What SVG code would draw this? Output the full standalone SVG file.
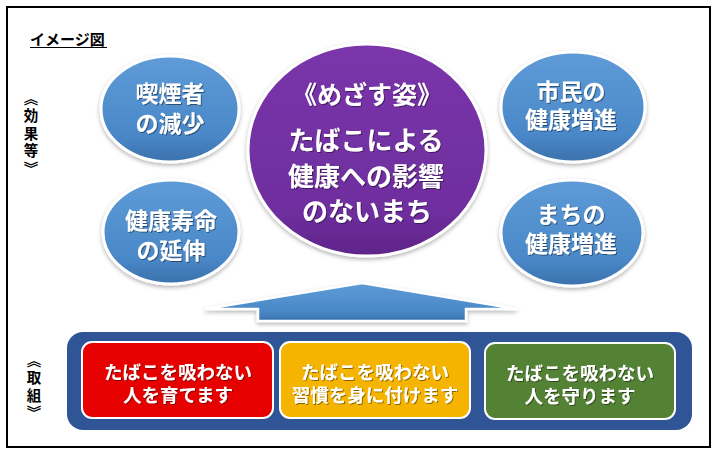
<svg xmlns="http://www.w3.org/2000/svg" width="720" height="456" viewBox="0 0 720 456">
<style>
.jp{font-family:'Noto Sans CJK JP','Noto Sans CJK SC',sans-serif;font-weight:bold}
.w{fill:#fff;text-anchor:middle}
.lbl{fill:#000;font-size:14.5px;writing-mode:vertical-rl;letter-spacing:3px}
.ell{stroke:#fff;stroke-width:3}
.box{stroke:#fff;stroke-width:2}
</style>
<defs>
<linearGradient id="blue" x1="0" y1="0" x2="0" y2="1">
<stop offset="0" stop-color="#5e9bd7"/><stop offset="0.75" stop-color="#4a88c8"/><stop offset="1" stop-color="#3a71ab"/>
</linearGradient>
<linearGradient id="purple" x1="0" y1="0" x2="0" y2="1">
<stop offset="0" stop-color="#7a35aa"/><stop offset="0.8" stop-color="#6e2e9e"/><stop offset="1" stop-color="#5e2488"/>
</linearGradient>
<filter id="sh" x="-10%" y="-10%" width="120%" height="130%">
<feDropShadow dx="0" dy="2" stdDeviation="2" flood-color="#000" flood-opacity="0.3"/>
</filter>
<filter id="ts" x="-5%" y="-20%" width="110%" height="140%">
<feDropShadow dx="1" dy="1" stdDeviation="0.6" flood-color="#000" flood-opacity="0.45"/>
</filter>
</defs>
<rect x="0" y="0" width="720" height="456" fill="#fff"/>
<rect x="7" y="7" width="703" height="440" fill="none" stroke="#000" stroke-width="2"/>

<g id="title">
<text class="jp" x="30" y="45" font-size="15" fill="#000">イメージ図</text>
<line x1="30" y1="47.5" x2="107" y2="47.5" stroke="#000" stroke-width="1.2"/>
</g>
<g id="label-effects">
<text class="jp lbl" x="31" y="91">《効果等》</text>
</g>
<g id="label-actions">
<text class="jp lbl" x="34" y="353">《取組》</text>
</g>

<g id="connectors">
<polygon points="362,283 517,309 466,309 466,321 258,321 258,309 205,309" fill="url(#blue)" stroke="#fff" stroke-width="2.5" stroke-linejoin="miter" filter="url(#sh)"/>
</g>

<g id="node-smokers">
<ellipse class="ell" cx="170" cy="109" rx="69" ry="53" fill="url(#blue)" filter="url(#sh)"/>
<g class="jp w" font-size="23" filter="url(#ts)"><text x="170" y="102">喫煙者</text><text x="170" y="132">の減少</text></g>
</g>
<g id="node-lifespan">
<ellipse class="ell" cx="171" cy="232" rx="68" ry="52" fill="url(#blue)" filter="url(#sh)"/>
<g class="jp w" font-size="23" filter="url(#ts)"><text x="171" y="229">健康寿命</text><text x="171" y="259">の延伸</text></g>
</g>
<g id="node-goal">
<ellipse class="ell" cx="367" cy="150" rx="119" ry="106" fill="url(#purple)" filter="url(#sh)"/>
<g class="jp w" filter="url(#ts)">
<text x="367" y="104" font-size="25">《めざす姿》</text>
<text x="366" y="150" font-size="26">たばこによる</text>
<text x="366" y="186" font-size="26">健康への影響</text>
<text x="367" y="221" font-size="26">のないまち</text>
</g>
</g>
<g id="node-citizens">
<ellipse class="ell" cx="573" cy="107" rx="72" ry="55" fill="url(#blue)" filter="url(#sh)"/>
<g class="jp w" font-size="23" filter="url(#ts)"><text x="571" y="100">市民の</text><text x="571" y="128">健康増進</text></g>
</g>
<g id="node-town">
<ellipse class="ell" cx="572" cy="233" rx="71" ry="53" fill="url(#blue)" filter="url(#sh)"/>
<g class="jp w" font-size="23" filter="url(#ts)"><text x="571" y="223">まちの</text><text x="571" y="252">健康増進</text></g>
</g>

<g id="panel">
<rect x="67" y="332" width="625" height="98" rx="16" fill="#2f5597"/>
</g>
<g id="node-raise">
<rect class="box" x="82" y="342" width="191" height="76" rx="10" fill="#e60000"/>
<g class="jp w" font-size="18.5" filter="url(#ts)"><text x="178" y="379">たばこを吸わない</text><text x="178" y="402">人を育てます</text></g>
</g>
<g id="node-habit">
<rect class="box" x="280" y="342" width="190" height="76" rx="10" fill="#f5b400"/>
<g class="jp w" font-size="18.5" filter="url(#ts)"><text x="375" y="379">たばこを吸わない</text><text x="375" y="402">習慣を身に付けます</text></g>
</g>
<g id="node-protect">
<rect class="box" x="485" y="343" width="190" height="76" rx="10" fill="#548235"/>
<g class="jp w" font-size="18.5" filter="url(#ts)"><text x="580" y="380">たばこを吸わない</text><text x="580" y="403">人を守ります</text></g>
</g>
</svg>
